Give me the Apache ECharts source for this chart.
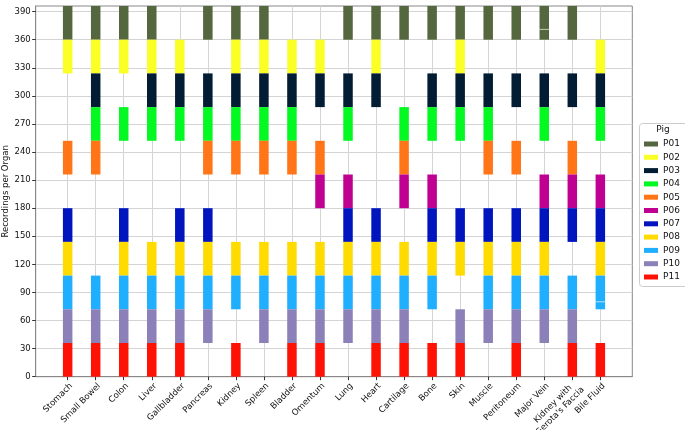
<!DOCTYPE html>
<html>
<head>
<meta charset="utf-8">
<script src="https://cdn.jsdelivr.net/npm/echarts@6/dist/echarts.min.js"></script>
<style>html,body{margin:0;padding:0;background:#fff}#c{width:685px;height:430px}</style>
</head>
<body>
<div id="c"></div>
<script>
const ORGANS = ['Stomach','Small Bowel','Colon','Liver','Gallbladder','Pancreas','Kidney','Spleen','Bladder','Omentum','Lung','Heart','Cartilage','Bone','Skin','Muscle','Peritoneum','Major Vein','Kidney with\nGerota\'s Faccia','Bile Fluid'];
const PIGS = ['P01','P02','P03','P04','P05','P06','P07','P08','P09','P10','P11'];
const COLORS = ['#55673F','#FAFF26','#011C33','#04F821','#FF7518','#BF0091','#0015BE','#FFDB00','#20AFFF','#8C80B8','#FF1206'];
// Recordings per organ for each pig (36 = recorded, 0 = not recorded); each pig owns a fixed band of 36
const BAND = 36;
const P01 = [36,36,36,36,0,36,36,36,0,0,36,36,36,36,36,36,36,36,36,0];
const P02 = [36,36,36,36,36,0,36,36,36,36,0,36,0,0,36,0,0,0,0,36];
const P03 = [0,36,0,36,36,36,36,36,36,36,36,36,0,36,36,36,36,36,36,36];
const P04 = [0,36,36,36,36,36,36,36,36,0,36,0,36,36,36,36,0,36,0,36];
const P05 = [36,36,0,0,0,36,36,36,36,36,0,0,36,0,0,36,36,0,36,0];
const P06 = [0,0,0,0,0,0,0,0,0,36,36,0,36,36,0,0,0,36,36,36];
const P07 = [36,0,36,0,36,36,0,0,0,0,36,36,0,36,36,36,36,36,36,36];
const P08 = [36,0,36,36,36,36,36,36,36,36,36,36,36,36,36,36,36,36,0,36];
const P09 = [36,36,36,36,36,36,36,36,36,36,36,36,36,36,0,36,36,36,36,36];
const P10 = [36,36,36,36,36,36,0,36,36,36,36,36,36,0,36,36,36,36,36,0];
const P11 = [36,36,36,36,36,0,36,0,36,36,0,36,36,36,36,0,36,0,36,36];
const VALUES = [P01,P02,P03,P04,P05,P06,P07,P08,P09,P10,P11];
// segment boundaries visible inside a pig's band (recordings split in two sessions)
const SPLIT_ORGANS = ['Major Vein', 'Bile Fluid'];
const SPLIT_AT = [371, 80];
const Y_TICKS = [0,30,60,90,120,150,180,210,240,270,300,330,360,390];
const Y_TITLE = 'Recordings per Organ';

const FONT = 'DejaVu Sans';
const chart = echarts.init(document.getElementById('c'));

// plot frame
const L = 35.7, R = 632.3, T = 6, B = 376.7, W = 685, H = 430;
const XMIN = -1.14, XMAX = ORGANS.length - 1 + 1.14;
const catW = (R - L) / (XMAX - XMIN);
const YMAX = BAND * PIGS.length;
const BAR_W = 9.5;
const LBL_FS = 8.5, LBL_LH = 10;
const idx = ORGANS.map((_, i) => i);
// matplotlib anchors the rotated label's bounding-box corner at the tick: shift text right accordingly
const labelPos = ORGANS.map((o, i) => i + (o.split('\n').length * LBL_LH / 2) * Math.SQRT1_2 / catW);

function renderBar(params, api) {
  const x = api.value(0);
  const p0 = api.coord([x, api.value(1)]);
  const p1 = api.coord([x, api.value(2)]);
  return {
    type: 'rect',
    shape: { x: p0[0] - BAR_W / 2, y: p1[1], width: BAR_W, height: p0[1] - p1[1] },
    style: { fill: api.visual('color') }
  };
}
function renderSplit(params, api) {
  const p = api.coord([api.value(0), api.value(1)]);
  return {
    type: 'line',
    shape: { x1: p[0] - BAR_W / 2, y1: p[1], x2: p[0] + BAR_W / 2, y2: p[1] },
    style: { stroke: 'rgba(255,255,255,0.65)', lineWidth: 1 }
  };
}

// P11 occupies the lowest band, P01 the highest
const series = PIGS.map((p, k) => {
  const base = (PIGS.length - 1 - k) * BAND;
  const data = [];
  VALUES[k].forEach((v, i) => { if (v > 0) data.push([i, base, base + v]); });
  return {
    name: p,
    type: 'custom',
    renderItem: renderBar,
    itemStyle: { color: COLORS[k] },
    encode: { x: 0, y: [1, 2] },
    silent: true,
    z: 3,
    data: data
  };
});
series.push({
  name: 'splits',
  type: 'custom',
  renderItem: renderSplit,
  encode: { x: 0, y: 1 },
  silent: true,
  z: 4,
  data: SPLIT_ORGANS.map((o, j) => [ORGANS.indexOf(o), SPLIT_AT[j]])
});

chart.setOption({
  animation: false,
  textStyle: { fontFamily: FONT },
  grid: { left: L, right: W - R, top: T, bottom: H - B, show: true, borderColor: '#888', borderWidth: 1, backgroundColor: 'transparent', outerBoundsMode: 'none', containLabel: false },
  xAxis: {
    type: 'value',
    min: XMIN, max: XMAX,
    axisLine: { show: true, onZero: false, lineStyle: { color: '#888' } },
    axisTick: { show: true, customValues: idx, length: 3.5, lineStyle: { color: '#333' } },
    splitLine: { show: true, lineStyle: { color: '#d4d4d4', width: 1 } },
    axisLabel: {
      customValues: labelPos,
      formatter: v => {
        const j = labelPos.findIndex(p => Math.abs(p - v) < 1e-6);
        const name = j >= 0 ? ORGANS[j] : '';
        return name.split('\n').map(s => '{c|' + s + '}').join('\n');
      },
      rich: { c: { align: 'center', fontSize: LBL_FS, lineHeight: LBL_LH, color: '#111', fontFamily: FONT } },
      rotate: 45, fontSize: LBL_FS, lineHeight: LBL_LH, color: '#111', fontFamily: FONT, margin: 8, align: 'right'
    }
  },
  yAxis: {
    type: 'value',
    min: 0, max: YMAX, interval: 30,
    axisLine: { show: true, onZero: false, lineStyle: { color: '#888' } },
    axisTick: { show: true, customValues: Y_TICKS, length: 3.5, lineStyle: { color: '#333' } },
    axisLabel: { customValues: Y_TICKS, fontSize: 8.5, color: '#111', fontFamily: FONT, margin: 5 },
    splitLine: { show: true, lineStyle: { color: '#d4d4d4', width: 1 } }
  },
  legend: {
    data: PIGS,
    orient: 'vertical',
    left: 644, top: 138,
    itemWidth: 14, itemHeight: 5, itemGap: 1.3,
    icon: 'rect', padding: 0,
    textStyle: { fontSize: 9, color: '#111', fontFamily: FONT, lineHeight: 12 },
    selectedMode: false
  },
  graphic: [
    { type: 'rect', shape: { x: 639.5, y: 123.5, width: 50, height: 163, r: 3 }, style: { fill: '#fff', stroke: '#ccc', lineWidth: 1 }, z: -1 },
    { type: 'text', x: 663, y: 130, style: { text: 'Pig', fontSize: 9, fontFamily: FONT, fill: '#111', align: 'center', verticalAlign: 'middle' } },
    { type: 'text', x: 5.5, y: (T + B) / 2, rotation: Math.PI / 2, style: { text: Y_TITLE, fontSize: 8.5, fontFamily: FONT, fill: '#111', align: 'center', verticalAlign: 'middle' } }
  ],
  series: series
});
</script>
</body>
</html>
